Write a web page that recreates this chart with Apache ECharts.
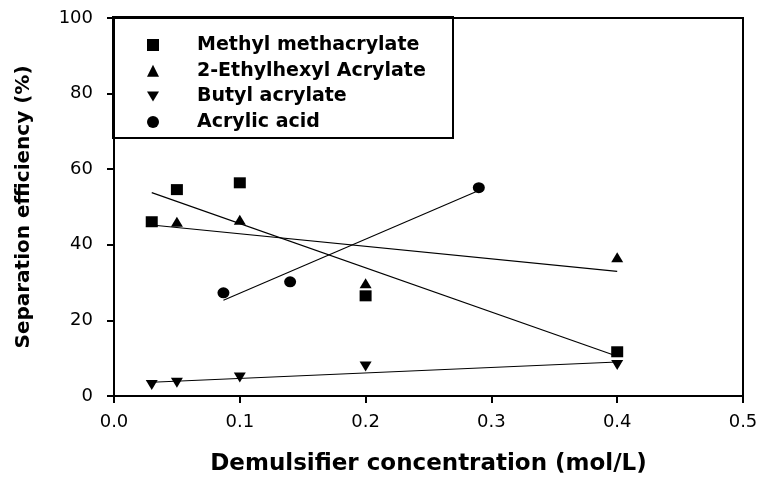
<!DOCTYPE html>
<html><head><meta charset="utf-8">
<script src="https://cdn.jsdelivr.net/npm/echarts@6/dist/echarts.min.js"></script>
<style>html,body{margin:0;padding:0;background:#fff}#c{width:766px;height:485px}</style>
</head><body><div id="c"></div>
<script>
// Data
const seriesNames = ['Methyl methacrylate', '2-Ethylhexyl Acrylate', 'Butyl acrylate', 'Acrylic acid'];
const mmaX = [0.03, 0.05, 0.1, 0.2, 0.4];
const mmaY = [46.1, 54.6, 56.4, 26.5, 11.7];
const ehaX = [0.03, 0.05, 0.1, 0.2, 0.4];
const ehaY = [46.1, 46.1, 46.6, 29.8, 36.7];
const baX = [0.03, 0.05, 0.1, 0.2, 0.4];
const baY = [2.9, 3.5, 4.9, 7.8, 8.2];
const aaX = [0.087, 0.14, 0.29];
const aaY = [27.3, 30.2, 55.1];
const xTicks = [0, 0.1, 0.2, 0.3, 0.4, 0.5];
const yTicks = [0, 20, 40, 60, 80, 100];

function pairs(xs, ys) { return xs.map((x, i) => [x, ys[i]]); }
function fit(xs, ys) {
  const n = xs.length;
  const mx = xs.reduce((a, b) => a + b, 0) / n;
  const my = ys.reduce((a, b) => a + b, 0) / n;
  let sxy = 0, sxx = 0;
  for (let i = 0; i < n; i++) { sxy += (xs[i] - mx) * (ys[i] - my); sxx += (xs[i] - mx) ** 2; }
  const b = sxy / sxx, a = my - b * mx;
  const x0 = Math.min(...xs), x1 = Math.max(...xs);
  return [[x0, a + b * x0], [x1, a + b * x1]];
}

const downTri = 'path://M0,0 L12,0 L6,10 Z';
const symbols = ['rect', 'triangle', downTri, 'circle'];
const sizes = [[12, 11], [12, 10], [12, 10], [12, 11]];
const zs = [4, 3, 3, 3];
const xs = [mmaX, ehaX, baX, aaX];
const ys = [mmaY, ehaY, baY, aaY];

const series = [];
for (let i = 0; i < 4; i++) {
  series.push({
    type: 'line', data: fit(xs[i], ys[i]), showSymbol: false, symbol: 'none', silent: true,
    lineStyle: { color: '#000', width: 1.1 }, z: 2, animation: false
  });
}
for (let i = 0; i < 4; i++) {
  series.push({
    name: seriesNames[i], type: 'scatter', data: pairs(xs[i], ys[i]),
    symbol: symbols[i], symbolSize: sizes[i], itemStyle: { color: '#000', opacity: 1 }, z: zs[i], animation: false
  });
}

const chart = echarts.init(document.getElementById('c'), null, { renderer: 'canvas' });
chart.setOption({
  animation: false,
  backgroundColor: '#fff',
  grid: { left: 114, right: 23, top: 18, bottom: 89, show: true, borderColor: '#000', borderWidth: 2 },
  graphic: [{
    type: 'rect', shape: { x: 113, y: 17, width: 340, height: 121 },
    style: { fill: 'none', stroke: '#000', lineWidth: 2 }, z: 10
  }],
  legend: {
    data: seriesNames, orient: 'vertical', left: 147, top: 35, padding: 0,
    itemWidth: 12, itemHeight: 12, itemGap: 5.7,
    itemStyle: { opacity: 1 },
    textStyle: { fontFamily: 'DejaVu Sans', fontWeight: 'bold', fontSize: 19, color: '#000', lineHeight: 20, padding: [0, 0, 0, 33] }
  },
  xAxis: {
    type: 'value', min: xTicks[0], max: xTicks[xTicks.length - 1], interval: 0.1,
    name: 'Demulsifier concentration (mol/L)', nameLocation: 'middle', nameGap: 57,
    nameTextStyle: { fontFamily: 'DejaVu Sans', fontWeight: 'bold', fontSize: 23, color: '#000' },
    axisLine: { lineStyle: { color: '#000', width: 2 } },
    axisTick: { length: 7, lineStyle: { color: '#000', width: 2 } },
    axisLabel: { fontFamily: 'DejaVu Sans', fontSize: 18, color: '#000', margin: 17, formatter: v => v.toFixed(1) },
    splitLine: { show: false }
  },
  yAxis: {
    type: 'value', min: yTicks[0], max: yTicks[yTicks.length - 1], interval: 20,
    name: 'Separation efficiency (%)', nameLocation: 'middle', nameGap: 80,
    nameTextStyle: { fontFamily: 'DejaVu Sans', fontWeight: 'bold', fontSize: 20, color: '#000' },
    axisLine: { lineStyle: { color: '#000', width: 2 } },
    axisTick: { length: 7, lineStyle: { color: '#000', width: 2 } },
    axisLabel: { fontFamily: 'DejaVu Sans', fontSize: 18, color: '#000', margin: 21 },
    splitLine: { show: false }
  },
  series: series
});
</script></body></html>
